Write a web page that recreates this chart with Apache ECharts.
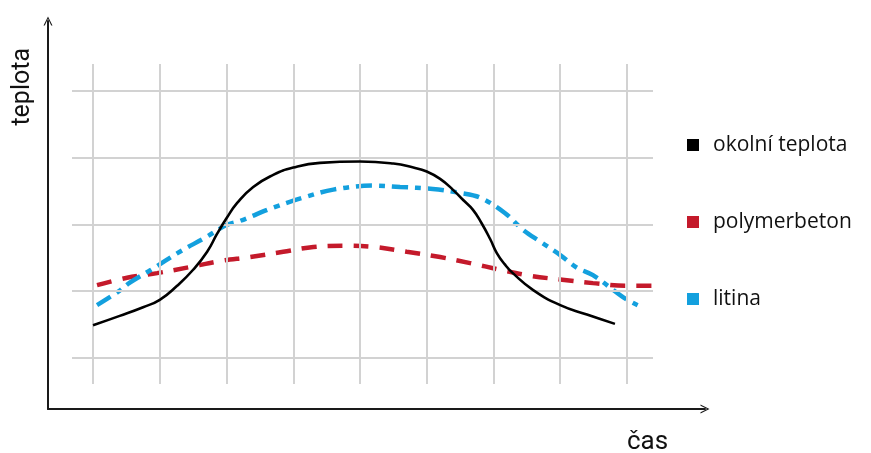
<!DOCTYPE html>
<html>
<head>
<meta charset="utf-8">
<script src="https://cdn.jsdelivr.net/npm/echarts@6/dist/echarts.min.js"></script>
<style>
html,body{margin:0;padding:0;background:#fff;}
#chart{width:871px;height:453px;}
</style>
</head>
<body>
<div id="chart"></div>
<script>
// grid line positions (in time / temperature units)
const gridX = [0, 1, 2, 3, 4, 5, 6, 7, 8];
const gridY = [0, 1, 2, 3, 4];

const seriesNames = ['okolní teplota', 'polymerbeton', 'litina'];

// okolní teplota
const ambient = [
  [0, 0.49], [0.40, 0.63], [0.75, 0.76], [1.0, 0.87], [1.26, 1.08], [1.50, 1.32],
  [1.71, 1.59], [1.86, 1.86], [2.0, 2.09], [2.16, 2.32], [2.40, 2.56], [2.70, 2.74],
  [3.0, 2.85], [3.40, 2.92], [4.0, 2.94], [4.5, 2.91], [4.8, 2.85], [5.0, 2.79],
  [5.2, 2.68], [5.39, 2.52], [5.55, 2.36], [5.69, 2.22], [5.82, 2.02], [5.95, 1.78],
  [6.05, 1.57], [6.17, 1.40], [6.29, 1.27], [6.59, 1.02], [7.0, 0.79], [7.4, 0.65],
  [7.82, 0.51]
];
// polymerbeton
const polymer = [
  [0.06, 1.09], [0.51, 1.20], [0.96, 1.27], [1.45, 1.36], [1.90, 1.45], [2.35, 1.51],
  [2.85, 1.59], [3.30, 1.66], [3.78, 1.68], [4.22, 1.66], [4.70, 1.59], [5.20, 1.51],
  [5.65, 1.42], [6.10, 1.32], [6.55, 1.23], [7.03, 1.17], [7.49, 1.12], [7.97, 1.08],
  [8.37, 1.08]
];
// litina
const castIron = [
  [0.06, 0.79], [0.39, 1.00], [0.54, 1.12], [0.87, 1.32], [1.30, 1.59], [1.68, 1.80],
  [2.0, 1.99], [2.20, 2.05], [2.70, 2.25], [3.15, 2.40], [3.60, 2.52], [4.19, 2.58],
  [4.60, 2.56], [5.09, 2.53], [5.50, 2.47], [5.80, 2.40], [6.17, 2.17], [6.44, 1.92],
  [6.70, 1.74], [7.0, 1.54], [7.25, 1.35], [7.49, 1.24], [7.94, 0.91], [8.16, 0.79]
];

const colors = ['#000000', '#c41a2b', '#13a0de'];
const arrow = 'path://M0,10 L5,0 L10,10 L8.6,10 L5,2.6 L1.4,10 Z';

const chart = echarts.init(document.getElementById('chart'), null, {renderer: 'canvas'});
chart.setOption({
  animation: false,
  backgroundColor: '#ffffff',
  grid: [
    {left: 72, top: 64, width: 581, height: 320},
    {left: 48, top: 21, right: 166, bottom: 44}
  ],
  xAxis: [
    {type: 'value', gridIndex: 0, min: -0.315, max: 8.39,
     axisLine: {show: false}, axisTick: {show: false}, axisLabel: {show: false}, splitLine: {show: false}},
    {type: 'value', gridIndex: 1, min: 0, max: 1,
     axisLine: {show: true, symbol: ['none', arrow], symbolSize: [10, 9], lineStyle: {color: '#1a1a1a', width: 2}},
     axisTick: {show: false}, axisLabel: {show: false}, splitLine: {show: false}}
  ],
  yAxis: [
    {type: 'value', gridIndex: 0, min: -0.39, max: 4.40,
     axisLine: {show: false}, axisTick: {show: false}, axisLabel: {show: false}, splitLine: {show: false}},
    {type: 'value', gridIndex: 1, min: 0, max: 1,
     axisLine: {show: true, symbol: ['none', arrow], symbolSize: [10, 9], lineStyle: {color: '#1a1a1a', width: 2}},
     axisTick: {show: false}, axisLabel: {show: false}, splitLine: {show: false}}
  ],
  legend: {
    orient: 'vertical',
    left: 682,
    top: 129,
    itemGap: 55,
    itemWidth: 12,
    itemHeight: 12,
    icon: 'rect',
    selectedMode: false,
    data: seriesNames.map((n, i) => ({name: n, itemStyle: {color: colors[i]}})),
    textStyle: {fontFamily: 'Open Sans', fontSize: 21, color: '#111', lineHeight: 22, padding: [0, 0, 0, 9]}
  },
  graphic: [
    {type: 'text', left: 10, top: 48, rotation: Math.PI / 2,
     style: {text: 'teplota', font: '25px Roboto', fill: '#111'}},
    {type: 'text', left: 627, top: 429,
     style: {text: 'čas', font: '26px Roboto', fill: '#111'}}
  ],
  series: [
    {
      name: '_grid', type: 'line', xAxisIndex: 0, yAxisIndex: 0, data: [], z: 1, silent: true,
      markLine: {
        silent: true, symbol: ['none', 'none'], label: {show: false},
        lineStyle: {color: '#d2d2d2', width: 2, type: 'solid'},
        data: gridX.map(v => ({xAxis: v})).concat(gridY.map(v => ({yAxis: v})))
      }
    },
    {
      name: seriesNames[1], type: 'line', data: polymer, smooth: 0.35, showSymbol: false, z: 3,
      lineStyle: {color: colors[1], width: 4.5, type: [15, 11], cap: 'butt'}, itemStyle: {color: colors[1]}
    },
    {
      name: seriesNames[2], type: 'line', data: castIron, smooth: 0.35, showSymbol: false, z: 4,
      lineStyle: {color: colors[2], width: 4.5, type: [16, 7, 6, 7], cap: 'butt'}, itemStyle: {color: colors[2]}
    },
    {
      name: seriesNames[0], type: 'line', data: ambient, smooth: 0.5, showSymbol: false, z: 5,
      lineStyle: {color: colors[0], width: 2.6}, itemStyle: {color: colors[0]}
    }
  ]
});
</script>
</body>
</html>
